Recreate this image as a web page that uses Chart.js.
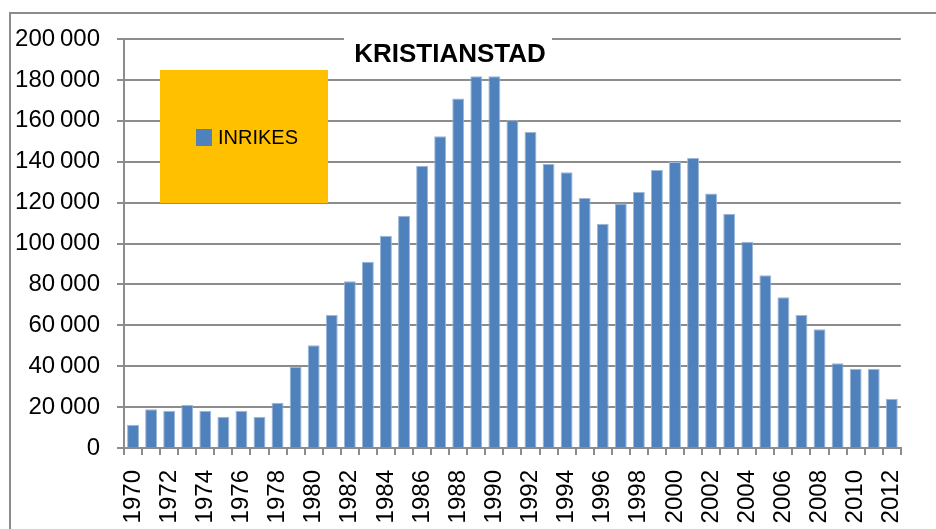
<!DOCTYPE html>
<html>
<head>
<meta charset="utf-8">
<script src="https://cdn.jsdelivr.net/npm/chart.js@4"></script>
<style>
html,body{margin:0;padding:0;background:#fff;}
canvas{display:block;}
</style>
</head>
<body>
<canvas id="c" width="936" height="529"></canvas>
<script>
const years = [1970,1971,1972,1973,1974,1975,1976,1977,1978,1979,1980,1981,1982,1983,1984,1985,1986,1987,1988,1989,1990,1991,1992,1993,1994,1995,1996,1997,1998,1999,2000,2001,2002,2003,2004,2005,2006,2007,2008,2009,2010,2011,2012];
const inrikes = [11400,19000,18200,21000,18200,15300,18200,15300,22100,39700,50300,65000,81600,91100,103800,113600,138000,152500,170900,181800,181800,160300,154500,138900,134900,122200,109700,119500,125200,135900,139800,141800,124400,114600,100900,84500,73700,65000,58100,41500,38700,38700,24100];
const seriesName = 'INRIKES';
const chartTitle = 'KRISTIANSTAD';
const yMin = 0, yMax = 200000, yStep = 20000;

const FONT = '"Liberation Sans", Arial, sans-serif';

function fmt(v){
  return String(v).replace(/\B(?=(\d{3})+(?!\d))/g, '\u2009');
}

const decor = {
  id: 'decor',
  beforeDraw(chart){
    const ctx = chart.ctx;
    ctx.save();
    ctx.fillStyle = '#fff';
    ctx.fillRect(0,0,chart.width,chart.height);
    ctx.strokeStyle = '#8c8c8c';
    ctx.lineWidth = 2;
    ctx.beginPath();
    ctx.moveTo(10, 540);
    ctx.lineTo(10, 13);
    ctx.lineTo(940, 13);
    ctx.stroke();
    ctx.restore();
  },
  afterDatasetsDraw(chart){
    const ctx = chart.ctx;
    ctx.save();
    // title with white background
    ctx.fillStyle = '#fff';
    ctx.fillRect(344, 30, 208, 40);
    ctx.fillStyle = '#000';
    ctx.font = 'bold 26px ' + FONT;
    ctx.textAlign = 'center';
    ctx.textBaseline = 'middle';
    ctx.fillText(chartTitle, 450, 55);
    // legend box
    ctx.fillStyle = '#FFC000';
    ctx.fillRect(160, 70, 168, 133);
    ctx.fillStyle = chart.data.datasets[0].backgroundColor;
    ctx.fillRect(196, 129, 16, 17);
    ctx.fillStyle = '#000';
    ctx.font = '20px ' + FONT;
    ctx.textAlign = 'left';
    ctx.fillText(chart.data.datasets[0].label, 218, 138);
    ctx.restore();
  }
};

new Chart(document.getElementById('c'), {
  type: 'bar',
  data: {
    labels: years,
    datasets: [{
      label: seriesName,
      data: inrikes,
      backgroundColor: '#4F81BD',
      borderColor: '#9DB8DA',
      borderWidth: 1,
      categoryPercentage: 1,
      barPercentage: 0.66
    }]
  },
  options: {
    responsive: false,
    animation: false,
    devicePixelRatio: 1,
    layout: { padding: { top: 39, right: 35, left: 0, bottom: 0 } },
    plugins: { legend: { display: false }, title: { display: false }, tooltip: { enabled: false } },
    scales: {
      x: {
        afterFit(s){ s.height = 81; },
        grid: { drawOnChartArea: false, drawTicks: true, tickLength: 7, color: '#8c8c8c', lineWidth: 2, offset: true },
        border: { color: '#8c8c8c', width: 2 },
        ticks: {
          autoSkip: false, maxRotation: 90, minRotation: 90, padding: 15,
          color: '#000', font: { family: FONT, size: 24 },
          callback(v, i){ return i % 2 === 0 ? String(years[i]) : ''; }
        }
      },
      y: {
        min: yMin, max: yMax,
        afterFit(s){ s.width = 124; },
        grid: { color: '#8c8c8c', lineWidth: 2, tickLength: 7 },
        border: { color: '#8c8c8c', width: 2 },
        ticks: {
          stepSize: yStep, padding: 17, color: '#000',
          font: { family: FONT, size: 24 },
          callback(v){ return fmt(v); }
        }
      }
    }
  },
  plugins: [decor]
});
</script>
</body>
</html>
